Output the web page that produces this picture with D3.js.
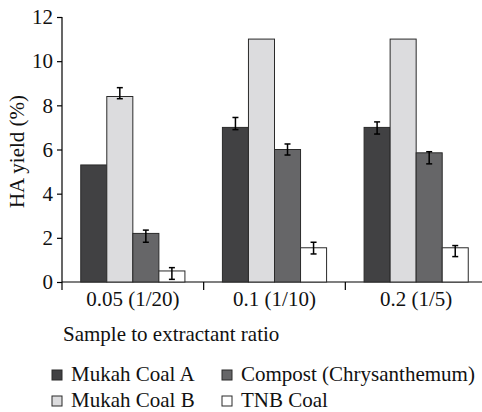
<!DOCTYPE html>
<html>
<head>
<script src="https://cdn.jsdelivr.net/npm/d3@7"></script>
<style>
  body { margin: 0; background: #fff; }
  svg text { font-family: 'Liberation Serif' !important; }
  .axis path, .axis line { stroke: #000; stroke-width: 1.2; }
</style>
</head>
<body>
<script>
// data
const categories = ["0.05 (1/20)", "0.1 (1/10)", "0.2 (1/5)"];
const seriesNames = ["Mukah Coal A", "Mukah Coal B", "Compost (Chrysanthemum)", "TNB Coal"];
const mukahA = [5.3, 7.0, 7.0];
const mukahB = [8.4, 11.0, 11.0];
const compost = [2.2, 6.0, 5.85];
const tnb = [0.5, 1.55, 1.55];
// error bar ranges [low, high], null = no bar drawn
const mukahAErr = [null, [6.9, 7.45], [6.7, 7.25]];
const mukahBErr = [[8.3, 8.8], null, null];
const compostErr = [[1.8, 2.35], [5.75, 6.25], [5.35, 5.9]];
const tnbErr = [[0.12, 0.65], [1.27, 1.8], [1.15, 1.65]];
const yTicks = [0, 2, 4, 6, 8, 10, 12];

const colors = ["#414143", "#dcdcde", "#666668", "#ffffff"];
const values = [mukahA, mukahB, compost, tnb];
const errs = [mukahAErr, mukahBErr, compostErr, tnbErr];

const FONT = "'Liberation Serif'";

const W = 482, H = 412;
const svg = d3.select("body").append("svg")
    .attr("width", W).attr("height", H);

const x0 = d3.scaleBand().domain(categories).range([62, 487]).padding(0);
const x1 = d3.scaleBand().domain(seriesNames).range([0, x0.bandwidth()])
    .paddingInner(0).paddingOuter(0.72);
const y = d3.scaleLinear().domain([0, 12]).range([282, 17]);

// y axis
svg.append("g")
    .attr("class", "axis")
    .attr("transform", "translate(62,0)")
    .call(d3.axisLeft(y).tickValues(yTicks).tickSize(5).tickPadding(4).tickSizeOuter(0))
    .call(g => g.attr("font-family", null).attr("font-size", null))
    .call(g => g.selectAll("text").attr("fill", "#111")
        .attr("font-family", FONT).attr("font-size", 21))
    .call(g => g.select(".domain").attr("d", `M0,${y(12)}V290`));

// x axis, ticks at band boundaries
const xAxis = svg.append("g")
    .attr("class", "axis")
    .attr("transform", "translate(0,282)");
xAxis.append("line").attr("x1", 62).attr("x2", W).attr("y1", 0).attr("y2", 0);
xAxis.selectAll(".sep")
    .data(categories.slice(1))
    .join("line")
    .attr("x1", d => x0(d)).attr("x2", d => x0(d))
    .attr("y1", 0).attr("y2", 8);
xAxis.selectAll("text")
    .data(categories)
    .join("text")
    .attr("x", d => x0(d) + x0.bandwidth() / 2)
    .attr("y", 24)
    .attr("text-anchor", "middle")
    .attr("font-family", FONT)
    .attr("font-size", 21)
    .attr("fill", "#111")
    .text(d => d);

// bars
const bars = [];
categories.forEach((c, ci) => {
    seriesNames.forEach((s, si) => {
        bars.push({cat: c, s: s, si: si, v: values[si][ci], err: errs[si][ci]});
    });
});

const groups = svg.append("g").selectAll("g")
    .data(bars)
    .join("g");

groups.append("rect")
    .attr("x", d => x0(d.cat) + x1(d.s))
    .attr("y", d => y(d.v))
    .attr("width", x1.bandwidth())
    .attr("height", d => y(0) - y(d.v))
    .attr("fill", d => colors[d.si])
    .attr("stroke", "#2a2a2a")
    .attr("stroke-width", 1);

const eb = groups.filter(d => d.err);
const cx = d => x0(d.cat) + x1(d.s) + x1.bandwidth() / 2;
eb.append("line")
    .attr("x1", cx).attr("x2", cx)
    .attr("y1", d => y(d.err[0])).attr("y2", d => y(d.err[1]))
    .attr("stroke", "#000").attr("stroke-width", 1.5);
[0, 1].forEach(k => {
    eb.append("line")
        .attr("x1", d => cx(d) - 3).attr("x2", d => cx(d) + 3)
        .attr("y1", d => y(d.err[k])).attr("y2", d => y(d.err[k]))
        .attr("stroke", "#000").attr("stroke-width", 1.5);
});

// y title
svg.append("text")
    .attr("transform", `translate(24,${(y(0) + y(12)) / 2 + 2}) rotate(-90)`)
    .attr("text-anchor", "middle")
    .attr("font-family", FONT)
    .attr("font-size", 21)
    .attr("fill", "#111")
    .text("HA yield (%)");

// x title
svg.append("text")
    .attr("x", 63).attr("y", 341)
    .attr("font-family", FONT)
    .attr("font-size", 21)
    .attr("fill", "#111")
    .text("Sample to extractant ratio");

// legend
const legendPos = [[52, 381], [52, 407], [222, 381], [222, 407]];
const legend = svg.append("g").selectAll("g")
    .data(seriesNames)
    .join("g")
    .attr("transform", (d, i) => `translate(${legendPos[i][0]},${legendPos[i][1]})`);
legend.append("rect")
    .attr("x", 0).attr("y", -11)
    .attr("width", 10).attr("height", 10)
    .attr("fill", (d, i) => colors[i])
    .attr("stroke", "#2a2a2a").attr("stroke-width", 1);
legend.append("text")
    .attr("x", 19).attr("y", 0)
    .attr("font-family", FONT)
    .attr("font-size", 21)
    .attr("fill", "#111")
    .text(d => d);
</script>
</body>
</html>
